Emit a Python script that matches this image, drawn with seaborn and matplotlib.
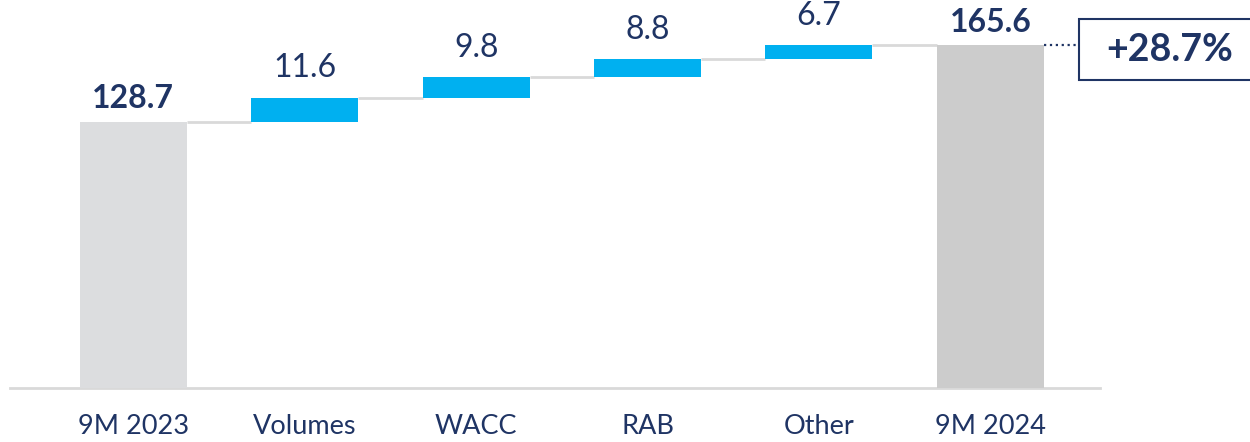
import matplotlib
matplotlib.use("Agg")
import matplotlib.pyplot as plt
import seaborn as sns
from matplotlib.patches import Rectangle

# -------------------------------
# Data
# -------------------------------
categories = ["9M 2023", "Volumes", "WACC", "RAB", "Other", "9M 2024"]
start_value = 128.7
deltas = [11.6, 9.8, 8.8, 6.7]
end_value = 165.6
growth_label = "+28.7%"

NAVY = "#1f3464"
BLUE = "#00b0f0"
LINE = "#d9d9d9"
bar_colors = ["#dcdddf", BLUE, BLUE, BLUE, BLUE, "#cccccc"]

# bar heights and bottoms for the waterfall
heights = [start_value] + deltas + [end_value]
bottoms = [0.0]
running = start_value
for d in deltas:
    bottoms.append(running)
    running += d
bottoms.append(0.0)
tops = [b + h for b, h in zip(bottoms, heights)]

# -------------------------------
# Plot
# -------------------------------
sns.set_theme(style="white")
plt.rcParams["font.family"] = ["Lato", "DejaVu Sans"]

fig = plt.figure(figsize=(12.5, 4.42), dpi=100)
ax = fig.add_axes([0.008, 0.122, 0.872, 0.878])

BAR_W = 0.625
sns.barplot(x=categories, y=heights, hue=categories, palette=bar_colors,
            width=BAR_W, legend=False, linewidth=0, saturation=1, ax=ax, zorder=3)

# lift the floating bars onto their running totals
for patch, b in zip(ax.patches, bottoms):
    patch.set_y(b)

# connector lines between bars
for i in range(len(categories) - 1):
    ax.hlines(tops[i], i + BAR_W / 2, i + 1 - BAR_W / 2, color=LINE, lw=2, zorder=2)

# value labels
for i, (t, h) in enumerate(zip(tops, heights)):
    is_total = i in (0, len(categories) - 1)
    ax.text(i, t + (4 if is_total else 7), f"{h:.1f}", ha="center", va="bottom",
            fontsize=23, color=NAVY, fontweight="bold" if is_total else "normal")

# dotted leader to growth box
last = len(categories) - 1
ax.plot([last + BAR_W / 2, last + 0.52], [end_value, end_value], ls=":", lw=1.6, color=NAVY)

box = Rectangle((1079 / 1250, 1 - 80 / 442), 0.2, 61 / 442, transform=fig.transFigure,
                facecolor="white", edgecolor=NAVY, lw=1.5, clip_on=False)
fig.patches.append(box)
fig.text(1170 / 1250, 1 - 50 / 442, growth_label, ha="center", va="center",
         fontsize=27, fontweight="bold", color=NAVY)

ax.set_xlim(-0.72, 5.64)
ax.set_ylim(0, 187.4)
ax.set_yticks([])
ax.set_xlabel("")
ax.set_ylabel("")
ax.tick_params(axis="x", length=0, pad=19, labelsize=19.5, labelcolor=NAVY)
for side in ["top", "right", "left"]:
    ax.spines[side].set_visible(False)
ax.spines["bottom"].set_color(LINE)
ax.spines["bottom"].set_linewidth(2)

fig.savefig("out.png", dpi=100)
